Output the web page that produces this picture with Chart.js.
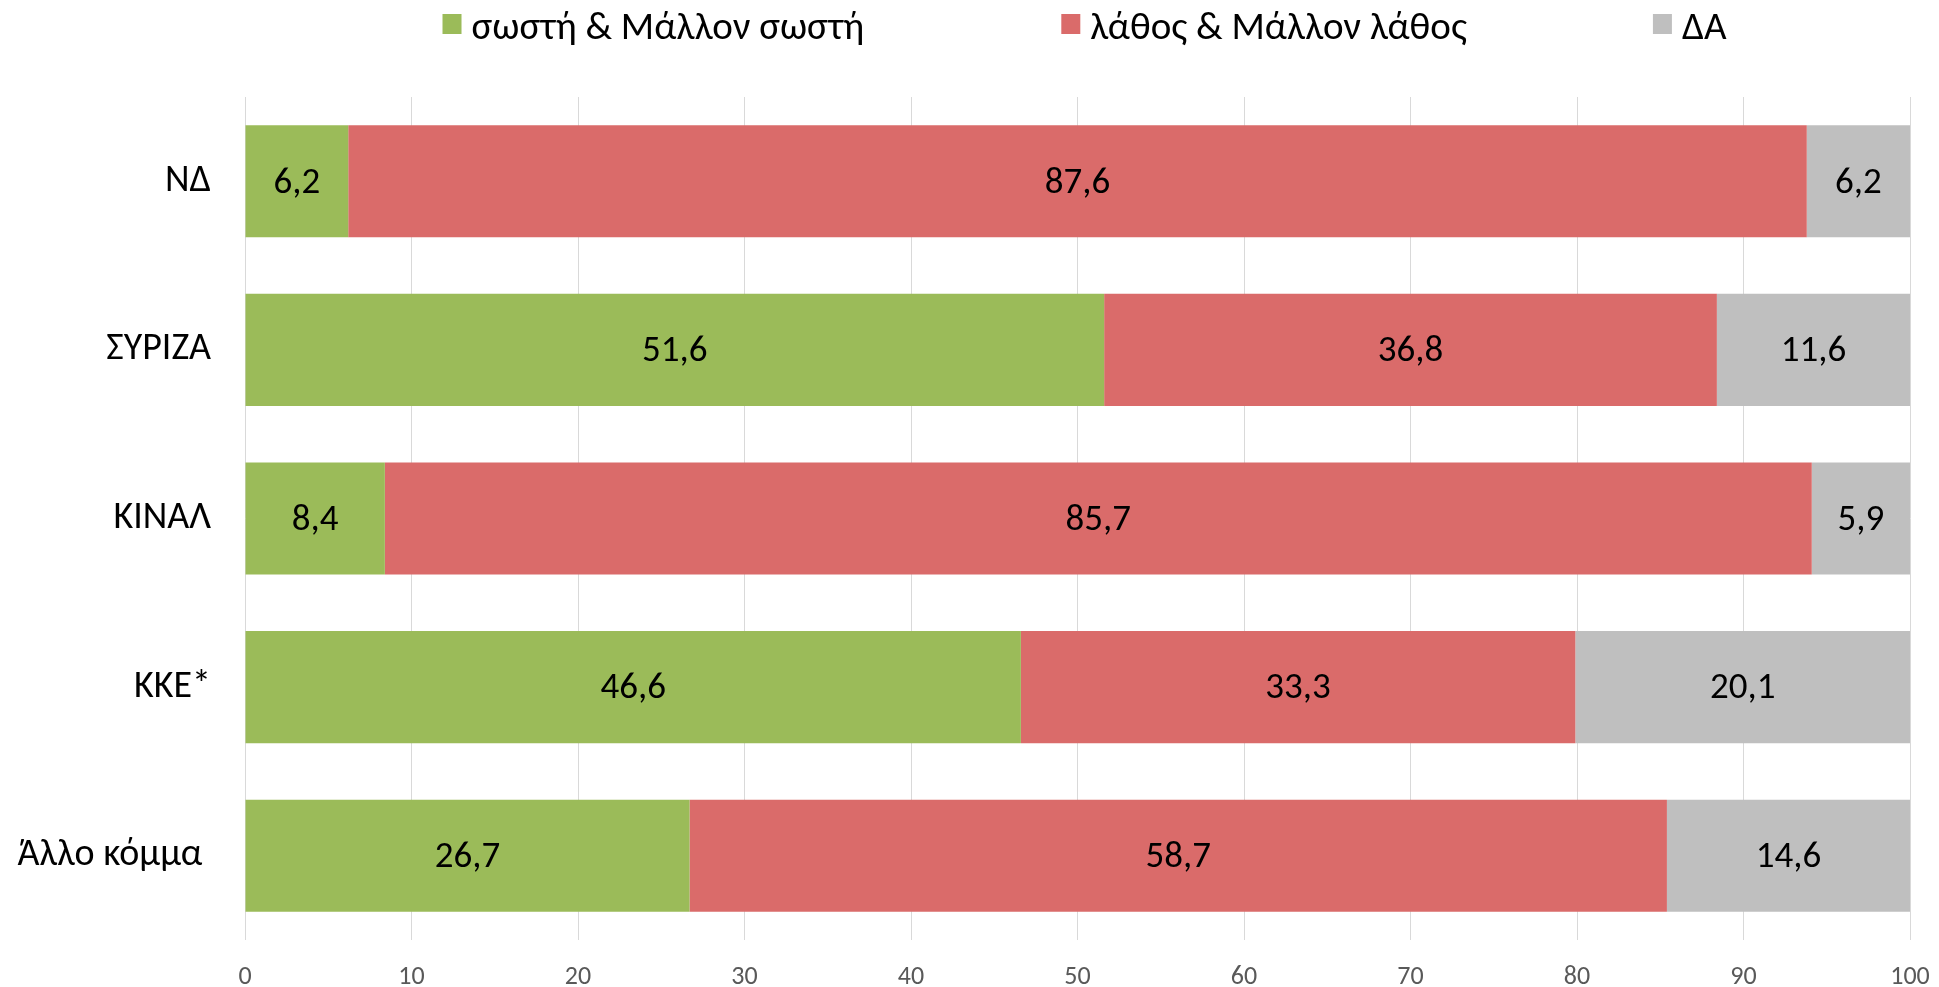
<!DOCTYPE html>
<html>
<head>
<meta charset="utf-8">
<script src="https://cdn.jsdelivr.net/npm/chart.js@4"></script>
<style>
html,body{margin:0;padding:0;background:#fff;overflow:hidden;}
#wrap{width:1939px;height:987px;overflow:hidden;}
canvas{display:block;}
</style>
</head>
<body>
<div id="wrap"><canvas id="c" width="1939" height="987"></canvas></div>
<script>
const categories = ["ΝΔ", "ΣΥΡΙΖΑ", "ΚΙΝΑΛ", "ΚΚΕ*", "Άλλο κόμμα "];
const seriesNames = ["σωστή & Μάλλον σωστή", "λάθος & Μάλλον λάθος", "ΔΑ"];
const correct = [6.2, 51.6, 8.4, 46.6, 26.7];
const wrong = [87.6, 36.8, 85.7, 33.3, 58.7];
const dontKnow = [6.2, 11.6, 5.9, 20.1, 14.6];
const xTicks = [0, 10, 20, 30, 40, 50, 60, 70, 80, 90, 100];

const colors = ["#9BBB59", "#DA6B6A", "#BFBFBF"];
const FONT = "Carlito, Calibri, Lato, sans-serif";

function zeroPad(scale) { scale.paddingLeft = 0; scale.paddingRight = 0; scale.paddingTop = 0; scale.paddingBottom = 0; }

const labelPlugin = {
  id: 'valueLabels',
  afterDatasetsDraw(chart) {
    const ctx = chart.ctx;
    ctx.save();
    ctx.font = "37px " + FONT;
    ctx.fillStyle = "#000";
    ctx.textAlign = "center";
    ctx.textBaseline = "middle";
    chart.data.datasets.forEach((ds, di) => {
      const meta = chart.getDatasetMeta(di);
      meta.data.forEach((el, i) => {
        const v = ds.data[i];
        const cx = (el.x + el.base) / 2;
        ctx.fillText(v.toFixed(1).replace('.', ','), cx, el.y + 2);
      });
    });
    ctx.restore();
  }
};

const legendPlugin = {
  id: 'customLegend',
  afterDraw(chart) {
    const ctx = chart.ctx;
    ctx.save();
    ctx.font = "39px " + FONT;
    ctx.textBaseline = "middle";
    ctx.textAlign = "left";
    const boxW = 19, boxH = 20, textGap = 10, itemGaps = [197, 186];
    const items = chart.data.datasets.map(d => ({text: d.label, color: d.backgroundColor, w: ctx.measureText(d.label).width}));
    let total = 0;
    items.forEach((it, i) => { total += boxW + textGap + it.w + (i < items.length - 1 ? itemGaps[i] : 0); });
    const center = (chart.chartArea.left + chart.chartArea.right) / 2 + 7;
    let x = center - total / 2;
    const cy = 29;
    items.forEach((it, i) => {
      ctx.fillStyle = it.color;
      ctx.fillRect(x, 14, boxW, boxH);
      ctx.fillStyle = "#000";
      ctx.fillText(it.text, x + boxW + textGap, cy);
      x += boxW + textGap + it.w + (itemGaps[i] || 0);
    });
    ctx.restore();
  }
};

new Chart(document.getElementById('c'), {
  type: 'bar',
  data: {
    labels: categories,
    datasets: [
      {label: seriesNames[0], data: correct, backgroundColor: colors[0]},
      {label: seriesNames[1], data: wrong, backgroundColor: colors[1]},
      {label: seriesNames[2], data: dontKnow, backgroundColor: colors[2]}
    ]
  },
  options: {
    indexAxis: 'y',
    responsive: false,
    animation: false,
    devicePixelRatio: 1,
    layout: {padding: {top: 97, right: 29, bottom: 0, left: 0}},
    datasets: {bar: {categoryPercentage: 1, barPercentage: 0.665, borderWidth: 0}},
    plugins: {legend: {display: false}, tooltip: {enabled: false}},
    scales: {
      x: {
        stacked: true,
        min: 0, max: 100,
        afterBuildTicks(scale) { scale.ticks = xTicks.map(v => ({value: v})); },
        afterFit(scale) { scale.height = 47; zeroPad(scale); },
        grid: {color: "#D9D9D9", lineWidth: 1, drawTicks: false},
        border: {display: false},
        ticks: {color: "#595959", font: {family: FONT, size: 26}, padding: 22}
      },
      y: {
        stacked: true,
        afterFit(scale) { scale.width = 245; zeroPad(scale); },
        grid: {display: false, drawTicks: false},
        border: {display: false},
        ticks: {color: "#000", font: {family: FONT, size: 38}, padding: 34}
      }
    }
  },
  plugins: [labelPlugin, legendPlugin]
});
</script>
</body>
</html>
